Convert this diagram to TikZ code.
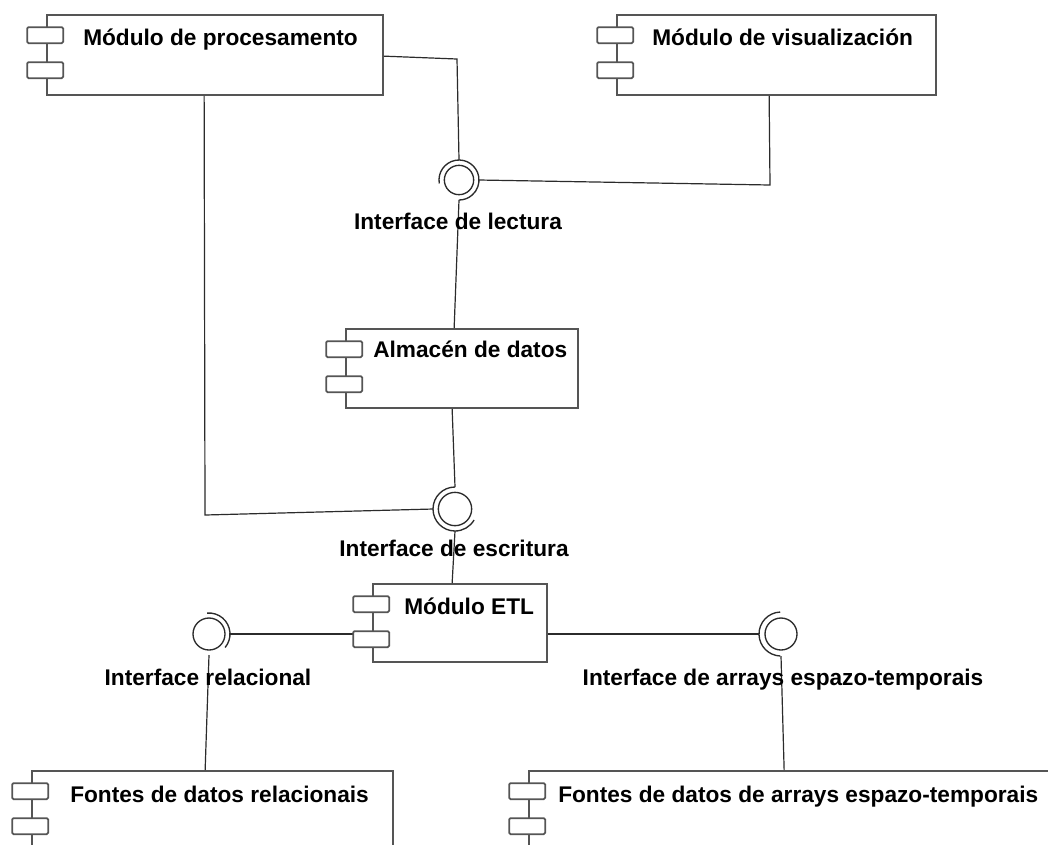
\documentclass[tikz,border=0pt]{standalone}
\usepackage{fontspec}
\setmainfont{Liberation Sans}
\usetikzlibrary{calc,fit}
\definecolor{linegray}{HTML}{555555}
\definecolor{conncol}{HTML}{2B2B2B}
\tikzset{
  compbox/.style={draw=linegray, line width=1.3pt, fill=white, inner sep=0pt},
  iconbox/.style={draw=linegray, line width=1.3pt, fill=white, rounded corners=1pt},
  conn/.style={draw=conncol, line width=0.9pt},
  ifc/.style={draw=conncol, line width=1pt},
  lbl/.style={font=\fontsize{17}{20}\selectfont\bfseries, text=black, inner sep=0pt},
}
% name, left, top, right, bottom, text x, text baseline, text
\newcommand\umlcomp[8]{%
  \coordinate (#1-nw) at (#2,#3);
  \coordinate (#1-se) at (#4,#5);
  \node[compbox, fit=(#1-nw)(#1-se)] (#1) {};
  \node[lbl, anchor=base west] (#1-txt) at (#6,#7) {#8};
}
\newcommand\umlicons[1]{%
  \draw[iconbox] ($(#1.north west)+(-19,13)$) rectangle ++(36,16);
  \draw[iconbox] ($(#1.north west)+(-19,48)$) rectangle ++(36,16);
}
% name, cx, cy, inner radius, outer radius, arc start, arc end
\newcommand\lolli[7]{%
  \coordinate (#1) at (#2,#3);
  \coordinate (#1-t) at ($(#1)+(90:#5)$);
  \coordinate (#1-b) at ($(#1)+(270:#5)$);
  \coordinate (#1-l) at ($(#1)+(180:#5)$);
  \coordinate (#1-r) at ($(#1)+(0:#5)$);
  \draw[ifc, fill=white] (#1) circle[radius=#4];
  \draw[ifc] ($(#1)+(#6:#5)$) arc[start angle=#6, end angle=#7, radius=#5];
}
\begin{document}
\begin{tikzpicture}[x=0.75pt,y=-0.75pt]
\clip (0,0) rectangle (1048,844);
\fill[white] (0,0) rectangle (1048,844);

% components
\umlcomp{proc}{47}{15}{383}{95}{83}{45}{Módulo de procesamento}
\umlcomp{vis}{617}{15}{936}{95}{652}{45}{Módulo de visualización}
\umlcomp{alm}{346}{329}{578}{408}{373}{357}{Almacén de datos}
\umlcomp{etl}{373}{584}{547}{662}{404}{614}{Módulo ETL}
\umlcomp{frel}{32}{771}{393}{880}{70}{802}{Fontes de datos relacionais}
\umlcomp{farr}{529}{771}{1080}{880}{558}{802}{Fontes de datos de arrays espazo-temporais}

% interfaces
\lolli{lect}{459}{180}{11pt}{15pt}{190}{-90}
\lolli{esc}{455}{509}{12.5pt}{16.5pt}{90}{330}
\lolli{rel}{209}{634}{12pt}{15.75pt}{95}{-40}
\lolli{arr}{781}{634}{12pt}{16.5pt}{92}{268}

% connectors
\draw[conn] ($(proc.north east)+(0,42)$) -- (457,59) -- (lect-t);
\draw[conn] ($(vis.south west)+(153,0)$) -- (770,185) -- (lect-r);
\draw[conn] (lect-b) -- ($(alm.north west)+(109,0)$);
\draw[conn] ($(alm.south west)+(107,0)$) -- (esc-t);
\draw[conn] ($(proc.south west)+(158,0)$) -- (205,515) -- (esc-l);
\draw[conn] (esc-b) -- ($(etl.north west)+(80,0)$);
\draw[conn] (rel-r) -- (etl.west |- rel-r);
\draw[conn] (rel-b) -- ($(frel.north west)+(174,0)$);
\draw[conn] (etl.east |- arr-l) -- (arr-l);
\draw[conn] (arr-b) -- ($(farr.north west)+(256,0)$);

% component icons
\umlicons{proc}
\umlicons{vis}
\umlicons{alm}
\umlicons{etl}
\umlicons{frel}
\umlicons{farr}

% interface labels
\node[lbl, anchor=base] (lectlbl) at (458,229) {Interface de lectura};
\node[lbl, anchor=base] (esclbl) at (454,556) {Interface de escritura};
\node[lbl, anchor=base] (rellbl) at (208,685) {Interface relacional};
\node[lbl, anchor=base] (arrlbl) at (783,685) {Interface de arrays espazo-temporais};
\end{tikzpicture}
\end{document}
